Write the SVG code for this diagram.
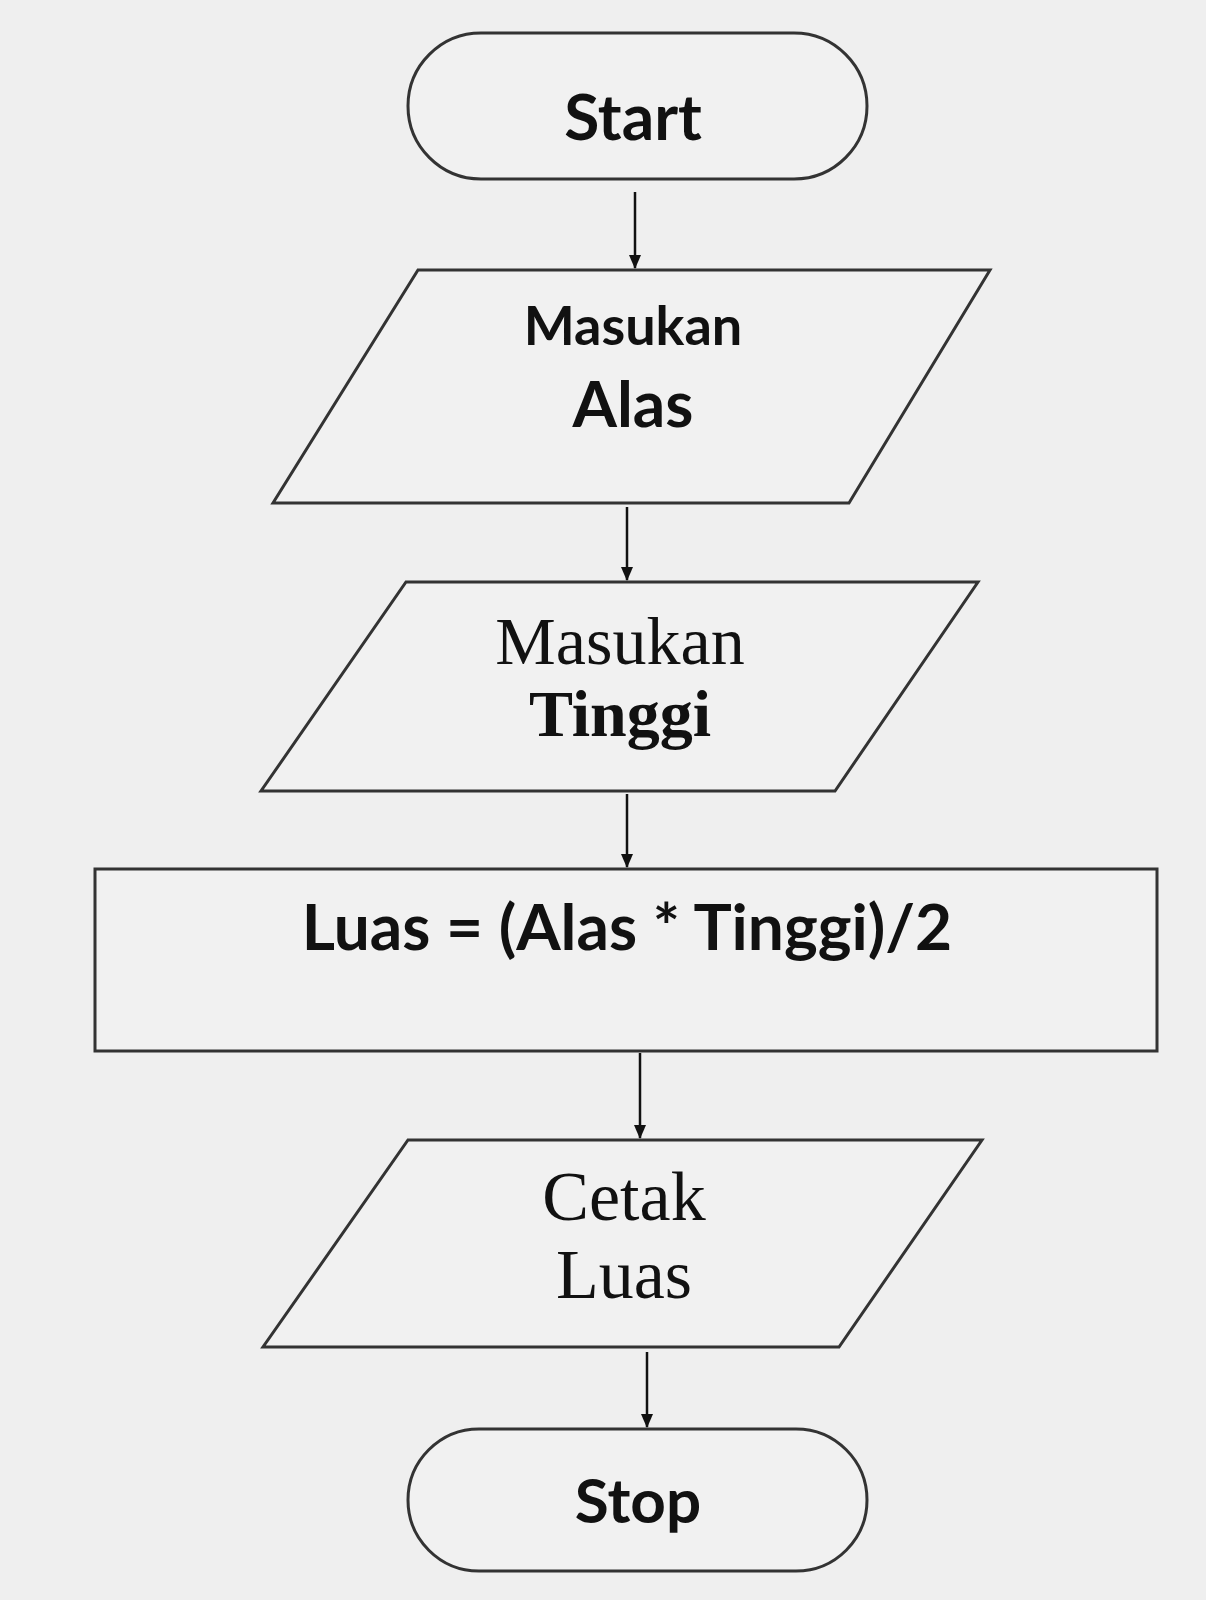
<svg xmlns="http://www.w3.org/2000/svg" width="1206" height="1600" viewBox="0 0 1206 1600">
<defs>
<marker id="ah" markerWidth="14" markerHeight="14" refX="13" refY="7" orient="auto" markerUnits="userSpaceOnUse" viewBox="0 0 14 14"><path d="M0,1 L14,7 L0,13 z" fill="#111"/></marker>
<style>
.s{fill:#f1f1f1;stroke:#333;stroke-width:3}
.c{stroke:#111;stroke-width:2.5;fill:none;marker-end:url(#ah)}
.sans{font-family:Lato,"Liberation Sans",sans-serif;font-weight:bold;fill:#111;text-anchor:middle}
.ser{font-family:"Liberation Serif","DejaVu Serif",serif;fill:#111;text-anchor:middle}
</style>
</defs>
<rect width="1206" height="1600" fill="#efefef"/>
<g id="start"><rect class="s" x="408" y="33" width="459" height="146" rx="73"/><text class="sans" x="633" y="140" font-size="64">Start</text></g>
<g id="input1"><polygon class="s" points="418,270 990,270 849,503 273,503"/><text class="sans" x="633" y="345" font-size="54">Masukan</text><text class="sans" x="633" y="427" font-size="64" font-weight="600">Alas</text></g>
<g id="input2"><polygon class="s" points="406,582 978,582 835,791 261,791"/><text class="ser" x="620" y="664" font-size="68">Masukan</text><text class="ser" x="620" y="736" font-size="66" font-weight="bold">Tinggi</text></g>
<g id="process"><rect class="s" x="95" y="869" width="1062" height="182"/><text class="sans" x="627" y="950" font-size="64">Luas = (Alas * Tinggi)/2</text></g>
<g id="output"><polygon class="s" points="408,1140 982,1140 839,1347 263,1347"/><text class="ser" x="624" y="1220" font-size="70">Cetak</text><text class="ser" x="624" y="1298" font-size="70">Luas</text></g>
<g id="stop"><rect class="s" x="408" y="1429" width="459" height="142" rx="71"/><text class="sans" x="638" y="1523" font-size="62">Stop</text></g>
<g id="connectors">
<line class="c" x1="635" y1="192" x2="635" y2="268"/>
<line class="c" x1="627" y1="507" x2="627" y2="580"/>
<line class="c" x1="627" y1="794" x2="627" y2="867"/>
<line class="c" x1="640" y1="1053" x2="640" y2="1138"/>
<line class="c" x1="647" y1="1352" x2="647" y2="1427"/>
</g>
</svg>
